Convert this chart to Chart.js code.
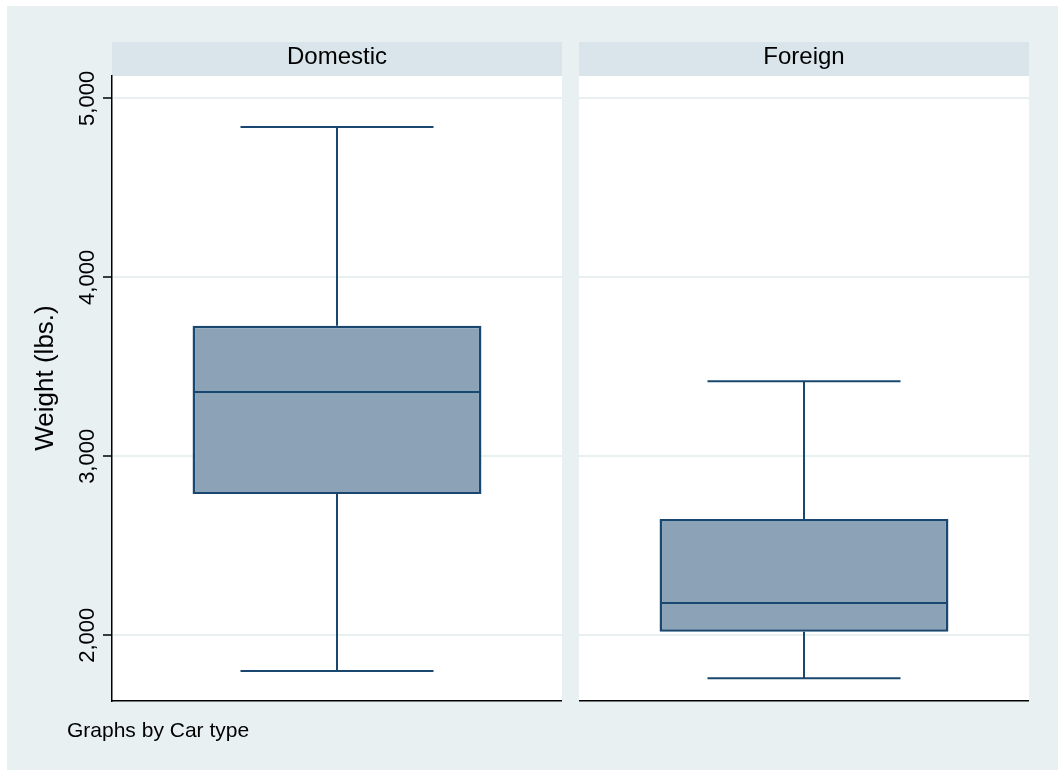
<!DOCTYPE html>
<html>
<head>
<meta charset="utf-8">
<script src="https://cdn.jsdelivr.net/npm/chart.js@4.4.1/dist/chart.umd.min.js"></script>
<style>
  body { margin: 0; background: #ffffff; }
  #bg { position: absolute; left: 7px; top: 6px; width: 1051px; height: 764px; background: #e8f0f2; }
  .panel { position: absolute; top: 0; height: 770px; }
  #leftPanel { left: 0; width: 562px; }
  #rightPanel { left: 579px; width: 450px; }
</style>
</head>
<body>
<div id="bg"></div>
<div class="panel" id="leftPanel"><canvas id="domesticChart" width="562" height="770"></canvas></div>
<div class="panel" id="rightPanel"><canvas id="foreignChart" width="450" height="770"></canvas></div>
<script>
// box plot stats per car type (weight, lbs.)
const panels = ['Domestic', 'Foreign'];
const lowerWhisker = [1800, 1760];
const lowerQuartile = [2790, 2020];
const medians = [3360, 2180];
const upperQuartile = [3730, 2650];
const upperWhisker = [4840, 3420];
const yTicks = [2000, 3000, 4000, 5000];
const yMin = 1633;
const yMax = 5125;
const yTitle = 'Weight (lbs.)';
const note = 'Graphs by Car type';

const FONT = '"Liberation Sans", Arial, Helvetica, sans-serif';
const NAVY = '#1a476f';
const FILL = '#8ca3b7';
const GRID = '#e8f0f2';

// white plot region + grey strip with the panel name
const panelBackground = {
  id: 'panelBackground',
  beforeDraw(chart) {
    const {ctx, chartArea: a} = chart;
    ctx.save();
    ctx.fillStyle = '#ffffff';
    ctx.fillRect(a.left, a.top, a.right - a.left, a.bottom - a.top);
    ctx.fillStyle = '#d9e5ea';
    ctx.fillRect(a.left, a.top - 34, a.right - a.left, 34);
    ctx.fillStyle = '#000000';
    ctx.font = '24px ' + FONT;
    ctx.textAlign = 'center';
    ctx.textBaseline = 'alphabetic';
    ctx.fillText(chart.data.labels[0], (a.left + a.right) / 2, a.top - 12);
    ctx.restore();
  }
};

// whiskers, caps and median line, placed with the chart's scales
const boxPlotLines = {
  id: 'boxPlotLines',
  afterDatasetsDraw(chart, args, opts) {
    const i = opts.index;
    const {ctx} = chart;
    const y = chart.scales.y;
    const x = chart.scales.x.getPixelForValue(0);
    const bar = chart.getDatasetMeta(0).data[0];
    const boxHalf = bar.width / 2;
    const capHalf = bar.width * 0.334;
    const line = (x1, y1, x2, y2) => {
      ctx.beginPath();
      ctx.moveTo(x1, y1);
      ctx.lineTo(x2, y2);
      ctx.stroke();
    };
    ctx.save();
    ctx.strokeStyle = NAVY;
    ctx.lineWidth = 2;
    const pUW = y.getPixelForValue(upperWhisker[i]);
    const pQ3 = y.getPixelForValue(upperQuartile[i]);
    const pMed = y.getPixelForValue(medians[i]);
    const pQ1 = y.getPixelForValue(lowerQuartile[i]);
    const pLW = y.getPixelForValue(lowerWhisker[i]);
    line(x, pQ3, x, pUW);
    line(x - capHalf, pUW, x + capHalf, pUW);
    line(x, pQ1, x, pLW);
    line(x - capHalf, pLW, x + capHalf, pLW);
    line(x - boxHalf + 1, pMed, x + boxHalf - 1, pMed);
    ctx.restore();
  }
};

// rotated tick labels, axis title and the note, only on the left panel
const leftAnnotations = {
  id: 'leftAnnotations',
  afterDraw(chart) {
    const {ctx} = chart;
    const y = chart.scales.y;
    ctx.save();
    ctx.fillStyle = '#000000';
    ctx.textBaseline = 'alphabetic';
    ctx.textAlign = 'center';
    ctx.font = '22px ' + FONT;
    y.ticks.forEach(t => {
      ctx.save();
      ctx.translate(y.right - 18, y.getPixelForValue(t.value));
      ctx.rotate(-Math.PI / 2);
      ctx.fillText(t.value.toLocaleString('en-US'), 0, 0);
      ctx.restore();
    });
    ctx.font = '26px ' + FONT;
    ctx.save();
    ctx.translate(53, 378);
    ctx.rotate(-Math.PI / 2);
    ctx.fillText(yTitle, 0, 0);
    ctx.restore();
    ctx.textAlign = 'left';
    ctx.font = '21px ' + FONT;
    ctx.fillText(note, 67, 737);
    ctx.restore();
  }
};

function makeChart(canvasId, i, withAxis) {
  const plugins = [panelBackground, boxPlotLines];
  if (withAxis) plugins.push(leftAnnotations);
  return new Chart(document.getElementById(canvasId), {
    type: 'bar',
    data: {
      labels: [panels[i]],
      datasets: [{
        data: [[lowerQuartile[i], upperQuartile[i]]],
        backgroundColor: FILL,
        borderColor: NAVY,
        borderWidth: 2.5,
        borderSkipped: false,
        barPercentage: 0.642,
        categoryPercentage: 1
      }]
    },
    options: {
      responsive: false,
      animation: false,
      events: [],
      layout: { padding: { top: 76, bottom: 69, left: 0, right: 0 } },
      plugins: {
        legend: { display: false },
        tooltip: { enabled: false },
        boxPlotLines: { index: i }
      },
      scales: {
        x: {
          type: 'category',
          grid: { display: false },
          ticks: { display: false },
          border: { display: true, color: '#000000', width: 1.5 },
          afterFit: s => { s.height = 0; }
        },
        y: {
          min: yMin,
          max: yMax,
          afterBuildTicks: s => { s.ticks = yTicks.map(v => ({ value: v })); },
          ticks: { display: false },
          grid: {
            color: GRID,
            lineWidth: 2,
            drawTicks: withAxis,
            tickLength: 9,
            tickColor: '#000000',
            tickWidth: 1.5
          },
          border: { display: withAxis, color: '#000000', width: 1.5 },
          afterFit: s => { s.width = withAxis ? 112 : 0; }
        }
      }
    },
    plugins: plugins
  });
}

makeChart('domesticChart', 0, true);
makeChart('foreignChart', 1, false);
</script>
</body>
</html>
